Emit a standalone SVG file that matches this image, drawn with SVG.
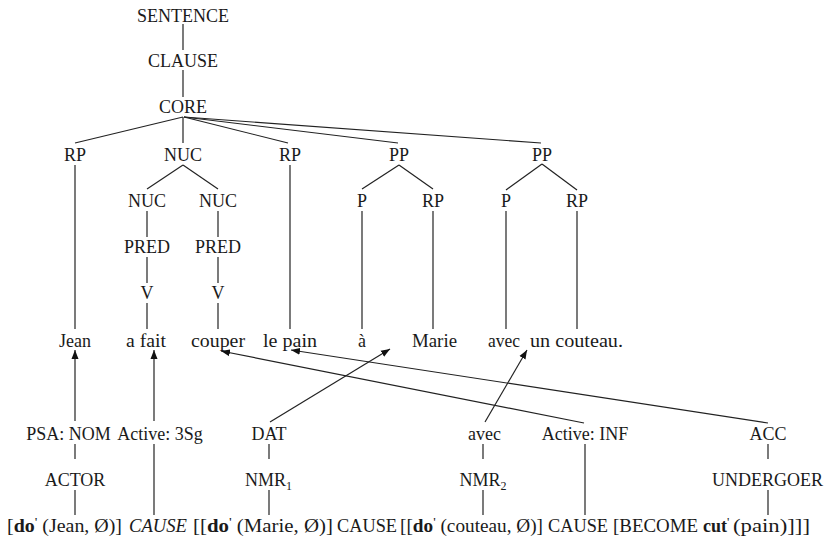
<svg xmlns="http://www.w3.org/2000/svg" width="825" height="538" viewBox="0 0 825 538">
<style>
text{font-family:"Liberation Serif","Times New Roman",serif;font-size:18px;fill:#1a1a1a}
.n{text-anchor:middle}
.e line,.e path{stroke:#222;stroke-width:1.2;fill:none}
.a{marker-end:url(#ah)}
.b{font-weight:bold}
.i{font-style:italic}
.p{font-size:13px}
</style>
<defs>
<marker id="ah" markerUnits="userSpaceOnUse" markerWidth="10" markerHeight="8" refX="9" refY="4" orient="auto">
<path d="M0,0.5 L9,4 L0,7.5 Z" fill="#111"/>
</marker>
</defs>
<rect width="825" height="538" fill="#fff"/>
<g class="e" id="connectors">
<line x1="183" y1="24" x2="183" y2="50"/>
<line x1="183" y1="70" x2="183" y2="97"/>
<line x1="183" y1="117" x2="75" y2="143"/>
<line x1="183" y1="117" x2="183" y2="143"/>
<line x1="184" y1="117" x2="288" y2="143"/>
<line x1="184" y1="117" x2="398" y2="143"/>
<line x1="184" y1="117" x2="541" y2="143"/>
<line x1="183" y1="165" x2="147" y2="189"/>
<line x1="183" y1="165" x2="218" y2="189"/>
<line x1="399" y1="165" x2="362" y2="189"/>
<line x1="399" y1="165" x2="433" y2="189"/>
<line x1="542" y1="164" x2="506" y2="190"/>
<line x1="542" y1="164" x2="577" y2="190"/>
<line x1="75" y1="165" x2="75" y2="329"/>
<line x1="290" y1="165" x2="290" y2="329"/>
<line x1="147" y1="211" x2="147" y2="237"/>
<line x1="147" y1="257" x2="147" y2="283"/>
<line x1="147" y1="303" x2="147" y2="329"/>
<line x1="218" y1="211" x2="218" y2="237"/>
<line x1="218" y1="257" x2="218" y2="283"/>
<line x1="218" y1="303" x2="218" y2="329"/>
<line x1="362" y1="211" x2="362" y2="329"/>
<line x1="433" y1="211" x2="433" y2="329"/>
<line x1="506" y1="211" x2="506" y2="329"/>
<line x1="577" y1="211" x2="577" y2="329"/>
<line class="a" x1="75" y1="421" x2="75" y2="350"/>
<line class="a" x1="154" y1="421" x2="154" y2="350"/>
<line class="a" x1="270" y1="422" x2="390" y2="349"/>
<line class="a" x1="485" y1="422" x2="527" y2="350"/>
<line class="a" x1="584" y1="423" x2="221" y2="351"/>
<line class="a" x1="768" y1="423" x2="291" y2="350"/>
<line x1="75" y1="444" x2="75" y2="459"/>
<line x1="75" y1="490" x2="75" y2="515"/>
<line x1="154" y1="444" x2="154" y2="515"/>
<line x1="269" y1="444" x2="269" y2="459"/>
<line x1="269" y1="490" x2="269" y2="515"/>
<line x1="483" y1="444" x2="483" y2="459"/>
<line x1="483" y1="490" x2="483" y2="515"/>
<line x1="585" y1="444" x2="585" y2="515"/>
<line x1="768" y1="444" x2="768" y2="459"/>
<line x1="768" y1="490" x2="768" y2="515"/>
</g>
<g id="sentence"><text class="n" x="183" y="21.5">SENTENCE</text></g>
<g id="clause"><text class="n" x="183" y="67">CLAUSE</text></g>
<g id="core"><text class="n" x="183" y="113">CORE</text></g>
<g id="rp1"><text class="n" x="75" y="161">RP</text></g>
<g id="nuc"><text class="n" x="183" y="161">NUC</text></g>
<g id="rp2"><text class="n" x="290" y="161">RP</text></g>
<g id="pp1"><text class="n" x="399" y="161">PP</text></g>
<g id="pp2"><text class="n" x="542" y="161">PP</text></g>
<g id="nuc-a"><text class="n" x="147" y="207">NUC</text></g>
<g id="nuc-b"><text class="n" x="218" y="207">NUC</text></g>
<g id="p1"><text class="n" x="362" y="207">P</text></g>
<g id="rp3"><text class="n" x="433" y="207">RP</text></g>
<g id="p2"><text class="n" x="506" y="207">P</text></g>
<g id="rp4"><text class="n" x="577" y="207">RP</text></g>
<g id="pred-a"><text class="n" x="147" y="253">PRED</text></g>
<g id="pred-b"><text class="n" x="218" y="253">PRED</text></g>
<g id="v-a"><text class="n" x="147" y="299">V</text></g>
<g id="v-b"><text class="n" x="218" y="299">V</text></g>
<g id="w-jean"><text class="n" x="75" y="347">Jean</text></g>
<g id="w-afait"><text x="126" y="347" textLength="40" lengthAdjust="spacingAndGlyphs">a fait</text></g>
<g id="w-couper"><text x="191" y="347" textLength="54" lengthAdjust="spacingAndGlyphs">couper</text></g>
<g id="w-lepain"><text x="263" y="347" textLength="54" lengthAdjust="spacingAndGlyphs">le pain</text></g>
<g id="w-a"><text class="n" x="362" y="347">à</text></g>
<g id="w-marie"><text x="412" y="347" textLength="45" lengthAdjust="spacingAndGlyphs">Marie</text></g>
<g id="w-avec"><text x="488" y="347" textLength="32" lengthAdjust="spacingAndGlyphs">avec</text></g>
<g id="w-couteau"><text x="530" y="347" textLength="93" lengthAdjust="spacingAndGlyphs">un couteau.</text></g>
<g id="psa"><text class="n" x="68.5" y="440">PSA: NOM</text></g>
<g id="active3sg"><text class="n" x="160" y="440">Active: 3Sg</text></g>
<g id="dat"><text class="n" x="269" y="440">DAT</text></g>
<g id="avec"><text class="n" x="484.5" y="440">avec</text></g>
<g id="activeinf"><text class="n" x="585" y="440">Active: INF</text></g>
<g id="acc"><text class="n" x="768" y="440">ACC</text></g>
<g id="actor"><text class="n" x="75" y="486">ACTOR</text></g>
<g id="nmr1"><text class="n" x="268.5" y="486">NMR<tspan font-size="12" dy="4">1</tspan></text></g>
<g id="nmr2"><text class="n" x="483" y="486">NMR<tspan font-size="12" dy="4">2</tspan></text></g>
<g id="undergoer"><text class="n" x="767.5" y="486">UNDERGOER</text></g>
<g id="lsr">
<text x="7" y="532" textLength="115" lengthAdjust="spacingAndGlyphs">[<tspan class="b">do</tspan><tspan class="p" dy="-6">'</tspan><tspan dy="6"> (Jean, Ø)]</tspan></text>
<text class="i" x="129" y="532" textLength="58" lengthAdjust="spacingAndGlyphs">CAUSE</text>
<text x="193" y="532" textLength="140" lengthAdjust="spacingAndGlyphs">[[<tspan class="b">do</tspan><tspan class="p" dy="-6">'</tspan><tspan dy="6"> (Marie, Ø)]</tspan></text>
<text x="337" y="532" textLength="60" lengthAdjust="spacingAndGlyphs">CAUSE</text>
<text x="400" y="532" textLength="143" lengthAdjust="spacingAndGlyphs">[[<tspan class="b">do</tspan><tspan class="p" dy="-6">'</tspan><tspan dy="6"> (couteau, Ø)]</tspan></text>
<text x="548" y="532" textLength="60" lengthAdjust="spacingAndGlyphs">CAUSE</text>
<text x="613" y="532" textLength="85" lengthAdjust="spacingAndGlyphs">[BECOME</text>
<text x="703" y="532"><tspan class="b">cut</tspan><tspan class="p" dy="-6">'</tspan></text>
<text x="733" y="532" textLength="77" lengthAdjust="spacingAndGlyphs">(pain)]]]</text>
</g>
</svg>
